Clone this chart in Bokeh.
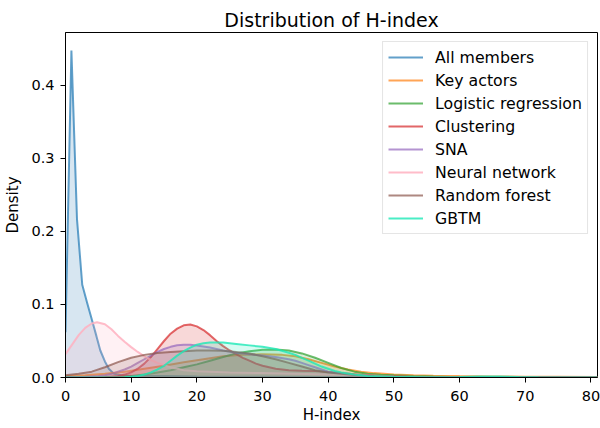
from bokeh.plotting import figure
from bokeh.models import ColumnDataSource, Range1d, FixedTicker, NumeralTickFormatter
from bokeh.embed import file_html
from bokeh.resources import INLINE

# ---- data (H-index density curves) ----
all_x = [0, 0.9, 1.75, 2.55, 3.3, 4.05, 4.7, 5.3, 6.0, 6.6, 7.4, 8.5, 10, 15, 20, 30, 40, 50, 60, 70, 81]
all_y = [0.062, 0.448, 0.217, 0.127, 0.102, 0.078, 0.057, 0.037, 0.022, 0.012, 0.005, 0.003, 0.0025,
         0.002, 0.0015, 0.001, 0.0008, 0.0005, 0.0003, 0.0002, 0.0001]

key_x = [0, 3, 6, 9, 12, 15, 18, 21, 24, 27, 30, 33, 35, 37, 39, 41, 43, 45, 47, 50, 53, 56, 60, 65, 70, 75, 81]
key_y = [0.002, 0.003, 0.005, 0.008, 0.012, 0.016, 0.021, 0.025, 0.029, 0.031, 0.032, 0.031, 0.029, 0.025,
         0.020, 0.015, 0.011, 0.008, 0.006, 0.004, 0.003, 0.0025, 0.002, 0.0015, 0.001, 0.001, 0.0008]

log_x = [0, 5, 8, 10, 12, 14, 16, 18, 20, 22, 24, 26, 28, 30, 32, 34, 36, 38, 40, 42, 44, 46, 48, 50, 53, 56, 60, 65, 81]
log_y = [0, 0.0003, 0.001, 0.002, 0.004, 0.007, 0.010, 0.014, 0.018, 0.023, 0.028, 0.033, 0.036, 0.038, 0.0385,
         0.037, 0.033, 0.027, 0.020, 0.013, 0.008, 0.005, 0.0038, 0.003, 0.002, 0.0012, 0.0005, 0.0001, 0]

clu_x = [0, 6, 8, 9, 10, 11, 12, 13, 14, 15, 16, 17, 18, 19, 20, 21, 22, 23, 24, 25, 26, 27, 28, 29, 30,
         32, 34, 36, 38, 40, 42, 45, 48, 52, 56, 81]
clu_y = [0, 0.0005, 0.002, 0.004, 0.007, 0.012, 0.019, 0.028, 0.039, 0.050, 0.060, 0.067, 0.0715, 0.0725,
         0.070, 0.065, 0.058, 0.050, 0.043, 0.037, 0.032, 0.027, 0.023, 0.019, 0.016, 0.012, 0.0098, 0.0092,
         0.0088, 0.0075, 0.006, 0.0035, 0.002, 0.001, 0.0003, 0]

sna_x = [0, 3, 5, 6, 7, 8, 9, 10, 11, 12, 13, 14, 15, 16, 17, 18, 19, 20, 21, 22, 24, 26, 28, 30, 32, 34,
         35, 36, 37, 38, 39, 40, 42, 44, 47, 50, 55, 81]
sna_y = [0.0003, 0.001, 0.002, 0.003, 0.005, 0.008, 0.011, 0.015, 0.020, 0.025, 0.030, 0.035, 0.039, 0.042,
         0.0442, 0.0448, 0.0447, 0.0438, 0.0425, 0.041, 0.037, 0.034, 0.032, 0.030, 0.028, 0.025, 0.023,
         0.020, 0.017, 0.014, 0.011, 0.008, 0.005, 0.003, 0.002, 0.001, 0.0004, 0]

nn_x = [0, 1, 2, 3, 4, 4.8, 6, 7, 8, 9, 10, 11, 12, 13, 14, 15, 16, 18, 20, 25, 30, 35, 40, 45, 50, 55, 60, 70, 81]
nn_y = [0.032, 0.045, 0.058, 0.068, 0.074, 0.0758, 0.073, 0.066, 0.057, 0.049, 0.0416, 0.035, 0.029, 0.024,
        0.020, 0.017, 0.014, 0.010, 0.0085, 0.0068, 0.006, 0.005, 0.004, 0.003, 0.0015, 0.0008, 0.0004, 0.0001, 0]

rf_x = [0, 2, 4, 6, 8, 10, 12, 14, 16, 18, 20, 22, 24, 26, 28, 30, 32, 34, 36, 38, 40, 42, 44, 47, 50, 55, 81]
rf_y = [0.003, 0.005, 0.008, 0.014, 0.021, 0.027, 0.031, 0.0335, 0.035, 0.036, 0.037, 0.037, 0.0365, 0.035,
        0.033, 0.029, 0.025, 0.020, 0.015, 0.010, 0.007, 0.005, 0.0035, 0.002, 0.0012, 0.0005, 0]

gb_x = [0, 6, 9, 10, 11, 12, 13, 14, 15, 16, 17, 18, 19, 20, 21, 22, 24, 26, 28, 30, 32, 34, 35, 36, 37, 38,
        39, 40, 41, 42, 44, 46, 50, 55, 60, 63, 66, 69, 72, 76, 81]
gb_y = [0, 0, 0.0005, 0.001, 0.002, 0.004, 0.007, 0.011, 0.016, 0.023, 0.030, 0.036, 0.041, 0.045, 0.047,
        0.048, 0.048, 0.046, 0.044, 0.042, 0.039, 0.034, 0.031, 0.027, 0.023, 0.019, 0.015, 0.012, 0.009,
        0.007, 0.004, 0.002, 0.001, 0.0005, 0.0008, 0.0015, 0.0015, 0.0008, 0.0003, 0, 0]

labels = ["All members", "Key actors", "Logistic regression", "Clustering", "SNA",
          "Neural network", "Random forest", "GBTM"]
xs = [all_x, key_x, log_x, clu_x, sna_x, nn_x, rf_x, gb_x]
ys = [all_y, key_y, log_y, clu_y, sna_y, nn_y, rf_y, gb_y]
colors = ["#1f77b4", "#ff7f0e", "#2ca02c", "#d62728", "#9467bd", "#ffb0c0", "#8c564b", "#1de9b6"]
line_alphas = [0.7, 0.7, 0.7, 0.7, 0.7, 0.85, 0.7, 0.8]

x_ticks = [0, 10, 20, 30, 40, 50, 60, 70, 80]
y_ticks = [0.0, 0.1, 0.2, 0.3, 0.4]

FONT = "DejaVu Sans"

p = figure(width=600, height=428, x_range=Range1d(0, 81), y_range=Range1d(0, 0.4726),
           output_backend="svg", toolbar_location=None, title="Distribution of H-index",
           min_border_left=65, min_border_right=3, min_border_top=32, min_border_bottom=51)

for lab, x, y, c, la in zip(labels, xs, ys, colors, line_alphas):
    src = ColumnDataSource(dict(x=x, y=y, z=[0] * len(x)))
    p.varea(x="x", y1="z", y2="y", source=src, fill_color=c, fill_alpha=0.18)
    p.line(x="x", y="y", source=src, line_color=c, line_alpha=la, line_width=2, legend_label=lab)

p.title.align = "center"
p.title.text_font = FONT
p.title.text_font_size = "19px"
p.title.text_font_style = "normal"
p.title.text_color = "black"
p.title.standoff = 4

p.grid.visible = False
p.outline_line_color = "black"
p.outline_line_width = 1

p.xaxis.ticker = FixedTicker(ticks=x_ticks)
p.yaxis.ticker = FixedTicker(ticks=y_ticks)
p.yaxis.formatter = NumeralTickFormatter(format="0.0")
p.xaxis.axis_label = "H-index"
p.yaxis.axis_label = "Density"
for ax in (p.xaxis, p.yaxis):
    ax.axis_line_color = "black"
    ax.major_tick_line_color = "black"
    ax.major_tick_out = 5
    ax.major_tick_in = 0
    ax.minor_tick_line_color = None
    ax.major_label_text_font = FONT
    ax.major_label_text_font_size = "14.5px"
    ax.major_label_text_color = "black"
    ax.axis_label_text_font = FONT
    ax.axis_label_text_font_size = "15px"
    ax.axis_label_text_font_style = "normal"
    ax.axis_label_text_color = "black"
p.xaxis.major_label_standoff = 8
p.xaxis.axis_label_standoff = 2
p.yaxis.major_label_standoff = 6
p.yaxis.axis_label_standoff = 6

lg = p.legend[0]
lg.location = "top_right"
lg.margin = 9
lg.padding = 5
lg.spacing = 3
lg.label_height = 20
lg.glyph_height = 20
lg.glyph_width = 35
lg.label_standoff = 12
lg.label_text_font = FONT
lg.label_text_font_size = "15.75px"
lg.label_text_color = "black"
lg.border_line_color = "#cccccc"
lg.border_line_width = 1
lg.background_fill_alpha = 0.8

open("out.html", "w").write(file_html(p, INLINE))
